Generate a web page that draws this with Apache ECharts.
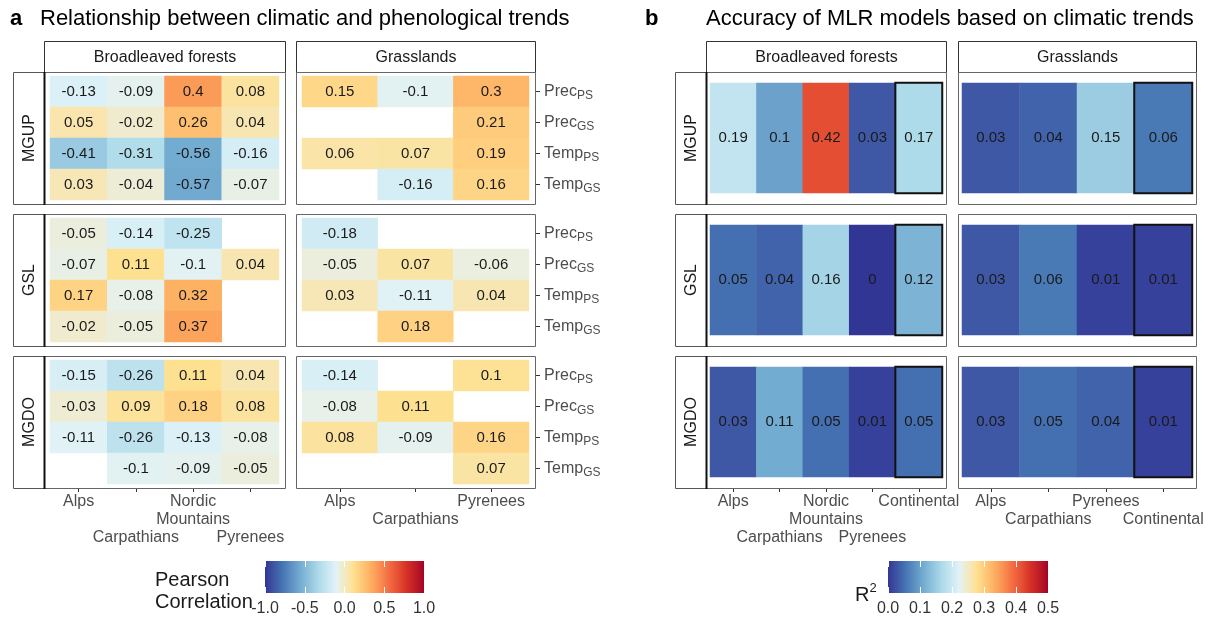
<!DOCTYPE html>
<html>
<head>
<meta charset="utf-8">
<script src="https://cdn.jsdelivr.net/npm/echarts@6/dist/echarts.min.js"></script>
<style>
  html, body { margin: 0; padding: 0; background: #ffffff; }
  #chart { width: 1212px; height: 621px; }
</style>
</head>
<body>
<div id="chart"></div>
<script>
// ---------------- data ----------------
const climateVars = ['Prec_PS', 'Prec_GS', 'Temp_PS', 'Temp_GS'];
const metrics = ['MGUP', 'GSL', 'MGDO'];
const biomes = ['Broadleaved forests', 'Grasslands'];

const forestRegions = ['Alps', 'Carpathians', 'Nordic Mountains', 'Pyrenees'];
const grassRegions = ['Alps', 'Carpathians', 'Pyrenees'];
const forestRegionsMLR = ['Alps', 'Carpathians', 'Nordic Mountains', 'Pyrenees', 'Continental'];
const grassRegionsMLR = ['Alps', 'Carpathians', 'Pyrenees', 'Continental'];

// Pearson correlation (rows: climateVars, columns: regions; null = not significant / missing)
const corrForestMGUP = [
  [-0.13, -0.09, 0.4, 0.08],
  [0.05, -0.02, 0.26, 0.04],
  [-0.41, -0.31, -0.56, -0.16],
  [0.03, -0.04, -0.57, -0.07]
];
const corrGrassMGUP = [
  [0.15, -0.1, 0.3],
  [null, null, 0.21],
  [0.06, 0.07, 0.19],
  [null, -0.16, 0.16]
];
const corrForestGSL = [
  [-0.05, -0.14, -0.25, null],
  [-0.07, 0.11, -0.1, 0.04],
  [0.17, -0.08, 0.32, null],
  [-0.02, -0.05, 0.37, null]
];
const corrGrassGSL = [
  [-0.18, null, null],
  [-0.05, 0.07, -0.06],
  [0.03, -0.11, 0.04],
  [null, 0.18, null]
];
const corrForestMGDO = [
  [-0.15, -0.26, 0.11, 0.04],
  [-0.03, 0.09, 0.18, 0.08],
  [-0.11, -0.26, -0.13, -0.08],
  [null, -0.1, -0.09, -0.05]
];
const corrGrassMGDO = [
  [-0.14, null, 0.1],
  [-0.08, 0.11, null],
  [0.08, -0.09, 0.16],
  [null, null, 0.07]
];

// MLR model accuracy (R²) per region
const r2ForestMGUP = [0.19, 0.1, 0.42, 0.03, 0.17];
const r2ForestGSL = [0.05, 0.04, 0.16, 0, 0.12];
const r2ForestMGDO = [0.03, 0.11, 0.05, 0.01, 0.05];
const r2GrassMGUP = [0.03, 0.04, 0.15, 0.06];
const r2GrassGSL = [0.03, 0.06, 0.01, 0.01];
const r2GrassMGDO = [0.03, 0.05, 0.04, 0.01];

const corrTicks = [-1, -0.5, 0, 0.5, 1];
const r2Ticks = [0, 0.1, 0.2, 0.3, 0.4, 0.5];

// diverging palette (blue - pale - red)
const paletteStops = ['#313695', '#4575b4', '#74add1', '#abd9e9', '#e0f3f8',
                      '#fee090', '#fdae61', '#f46d43', '#d73027', '#a50026'];

// ---------------- colour ramp (interpolated in CIELAB) ----------------
function hexToRgb(h) {
  return [parseInt(h.slice(1, 3), 16), parseInt(h.slice(3, 5), 16), parseInt(h.slice(5, 7), 16)];
}
function toLin(c) { c /= 255; return c <= 0.04045 ? c / 12.92 : Math.pow((c + 0.055) / 1.055, 2.4); }
function fromLin(c) {
  const v = c <= 0.0031308 ? 12.92 * c : 1.055 * Math.pow(c, 1 / 2.4) - 0.055;
  return Math.round(Math.max(0, Math.min(1, v)) * 255);
}
function rgbToLab(rgb) {
  const R = toLin(rgb[0]), G = toLin(rgb[1]), B = toLin(rgb[2]);
  const X = (0.4124 * R + 0.3576 * G + 0.1805 * B) / 0.95047;
  const Y = (0.2126 * R + 0.7152 * G + 0.0722 * B);
  const Z = (0.0193 * R + 0.1192 * G + 0.9505 * B) / 1.08883;
  const f = t => t > 0.008856 ? Math.cbrt(t) : 7.787 * t + 16 / 116;
  const fx = f(X), fy = f(Y), fz = f(Z);
  return [116 * fy - 16, 500 * (fx - fy), 200 * (fy - fz)];
}
function labToHex(lab) {
  const fy = (lab[0] + 16) / 116, fx = fy + lab[1] / 500, fz = fy - lab[2] / 200;
  const inv = t => t * t * t > 0.008856 ? t * t * t : (t - 16 / 116) / 7.787;
  const X = inv(fx) * 0.95047, Y = inv(fy), Z = inv(fz) * 1.08883;
  const R = 3.2406 * X - 1.5372 * Y - 0.4986 * Z;
  const G = -0.9689 * X + 1.8758 * Y + 0.0415 * Z;
  const B = 0.0557 * X - 0.2040 * Y + 1.0570 * Z;
  return '#' + [R, G, B].map(c => fromLin(c).toString(16).padStart(2, '0')).join('');
}
const stopLabs = paletteStops.map(h => rgbToLab(hexToRgb(h)));
function ramp(t) {
  const n = stopLabs.length - 1;
  const p = Math.max(0, Math.min(1, t)) * n;
  const i = Math.min(n - 1, Math.floor(p));
  const f = p - i;
  const a = stopLabs[i], b = stopLabs[i + 1];
  return labToHex([a[0] + (b[0] - a[0]) * f, a[1] + (b[1] - a[1]) * f, a[2] + (b[2] - a[2]) * f]);
}
const NSTEP = 120;
const rampColors = [];
for (let i = 0; i <= NSTEP; i++) rampColors.push(ramp(i / NSTEP));
const gradientStops = rampColors.map((c, i) => ({ offset: i / NSTEP, color: c }));

// ---------------- layout ----------------
const FONT = '"Liberation Sans", Arial, Helvetica, sans-serif';
const TXT = '#1a1a1a';
const AXT = '#4d4d4d';
const rowY = [[72, 204], [214, 346], [356, 488]];
const headerY = [41, 72];
const panelsA = [{ x0: 44, x1: 285, c0: 50, c1: 279 }, { x0: 296, x1: 535, c0: 302, c1: 529 }];
const panelsB = [{ x0: 706, x1: 946, c0: 710, c1: 942 }, { x0: 958, x1: 1196, c0: 962, c1: 1192 }];
const stripA = [13, 44];
const stripB = [675, 706];
const insetA = 4, insetB = 11;

const corrData = [
  [corrForestMGUP, corrGrassMGUP],
  [corrForestGSL, corrGrassGSL],
  [corrForestMGDO, corrGrassMGDO]
];
const r2Data = [
  [r2ForestMGUP, r2GrassMGUP],
  [r2ForestGSL, r2GrassGSL],
  [r2ForestMGDO, r2GrassMGDO]
];
const regionsA = [forestRegions, grassRegions];
const regionsB = [forestRegionsMLR, grassRegionsMLR];

// staggered two-row axis labels
function dodgeFormatter(cats) {
  const firstRow = cats.filter((c, i) => i % 2 === 0);
  const depth = Math.max.apply(null, firstRow.map(c => c.indexOf('Mountains') >= 0 ? 2 : 1));
  return function (value, index) {
    const text = value.replace('Nordic Mountains', 'Nordic\nMountains');
    return index % 2 === 1 ? '\n'.repeat(depth) + text : text;
  };
}

const grids = [], xAxes = [], yAxes = [], series = [];

function heatCells(matrix) {
  const out = [];
  matrix.forEach((row, r) => row.forEach((v, c) => { if (v !== null) out.push([c, r, v]); }));
  return out;
}

const cellLabel = {
  show: true, fontSize: 15, color: TXT, fontFamily: FONT,
  formatter: p => String(p.data.value ? p.data.value[2] : p.data[2])
};

// Panel a : correlations
rowY.forEach((ry, r) => {
  panelsA.forEach((pa, c) => {
    const gi = grids.length;
    grids.push({ left: pa.c0, top: ry[0] + insetA, width: pa.c1 - pa.c0, height: ry[1] - ry[0] - 2 * insetA, outerBoundsMode: 'none', containLabel: false });
    const bottom = r === rowY.length - 1;
    xAxes.push({
      gridIndex: gi, type: 'category', data: regionsA[c], position: 'bottom', offset: insetA,
      axisLine: { show: false },
      axisTick: { show: bottom, alignWithLabel: true, length: 4, lineStyle: { color: '#333', width: 1 } },
      axisLabel: { show: bottom, interval: 0, margin: 5, fontSize: 16, lineHeight: 18, color: AXT, fontFamily: FONT, formatter: dodgeFormatter(regionsA[c]) },
      splitLine: { show: false }
    });
    yAxes.push({
      gridIndex: gi, type: 'category', data: climateVars, inverse: true, position: 'right', offset: 535 - pa.c1,
      axisLine: { show: false },
      axisTick: { show: c === 1, alignWithLabel: true, length: 5, lineStyle: { color: '#333', width: 1 } },
      axisLabel: {
        show: c === 1, margin: 9, color: AXT, fontFamily: FONT,
        formatter: v => { const p = v.split('_'); return '{m|' + p[0] + '}{s|' + p[1] + '}'; },
        rich: {
          m: { fontSize: 16, color: AXT, fontFamily: FONT, lineHeight: 20, verticalAlign: 'middle' },
          s: { fontSize: 12, color: AXT, fontFamily: FONT, lineHeight: 11, verticalAlign: 'bottom' }
        }
      },
      splitLine: { show: false }
    });
    series.push({
      type: 'heatmap', xAxisIndex: gi, yAxisIndex: gi,
      data: heatCells(corrData[r][c]),
      label: cellLabel, emphasis: { disabled: true }, itemStyle: { borderWidth: 0 }
    });
  });
});

// Panel b : model accuracy
const seriesA = series.map((s, i) => i);
rowY.forEach((ry, r) => {
  panelsB.forEach((pb, c) => {
    const gi = grids.length;
    grids.push({ left: pb.c0, top: ry[0] + insetB, width: pb.c1 - pb.c0, height: ry[1] - ry[0] - 2 * insetB, outerBoundsMode: 'none', containLabel: false });
    const bottom = r === rowY.length - 1;
    const cats = regionsB[c];
    xAxes.push({
      gridIndex: gi, type: 'category', data: cats, position: 'bottom', offset: insetB,
      axisLine: { show: false },
      axisTick: { show: bottom, alignWithLabel: true, length: 4, lineStyle: { color: '#333', width: 1 } },
      axisLabel: { show: bottom, interval: 0, margin: 5, fontSize: 16, lineHeight: 18, color: AXT, fontFamily: FONT, formatter: dodgeFormatter(cats) },
      splitLine: { show: false }
    });
    yAxes.push({ gridIndex: gi, type: 'category', data: [metrics[r]], show: false });
    const vals = r2Data[r][c];
    series.push({
      type: 'heatmap', xAxisIndex: gi, yAxisIndex: gi,
      data: vals.map((v, i) => {
        const item = { value: [i, 0, v] };
        if (cats[i] === 'Continental') item.itemStyle = { borderColor: '#111', borderWidth: 2 };
        return item;
      }),
      label: cellLabel, emphasis: { disabled: true }
    });
  });
});
const seriesB = series.map((s, i) => i).filter(i => seriesA.indexOf(i) < 0);

// Colour bars
function colourBar(left, width, ticks) {
  const gi = grids.length;
  grids.push({ left: left, top: 561, width: width, height: 32, outerBoundsMode: 'none', containLabel: false });
  const min = ticks[0], max = ticks[ticks.length - 1], step = ticks[1] - ticks[0];
  const base = {
    gridIndex: gi, type: 'value', min: min, max: max, interval: step, z: 5,
    axisLine: { show: false }, splitLine: { show: false },
    axisTick: { show: true, inside: true, length: 6, lineStyle: { color: '#ffffff', width: 1 } }
  };
  xAxes.push(Object.assign({}, base, {
    position: 'bottom',
    axisLabel: { show: true, margin: 8, fontSize: 16, color: '#333', fontFamily: FONT, formatter: v => v.toFixed(1) }
  }));
  const topIndex = xAxes.length;
  xAxes.push(Object.assign({}, base, { position: 'top', axisLabel: { show: false } }));
  yAxes.push({ gridIndex: gi, type: 'value', min: 0, max: 1, show: false });
  series.push({
    type: 'custom', xAxisIndex: topIndex - 1, yAxisIndex: yAxes.length - 1, z: 1,
    data: [[min, max]],
    renderItem: (params, api) => {
      const p0 = api.coord([api.value(0), 0]);
      const p1 = api.coord([api.value(1), 1]);
      return {
        type: 'rect',
        shape: { x: p0[0], y: p1[1], width: p1[0] - p0[0], height: p0[1] - p1[1] },
        style: { fill: new echarts.graphic.LinearGradient(0, 0, 1, 0, gradientStops) }
      };
    }
  });
}
colourBar(265, 159, corrTicks);
colourBar(888, 160, r2Ticks);

// ---------------- frames, strips and titles ----------------
const graphic = [];
function box(x0, y0, x1, y1, stroke, lw) {
  graphic.push({ type: 'rect', z: 10, silent: true,
    shape: { x: x0 + 0.5, y: y0 + 0.5, width: x1 - x0, height: y1 - y0 },
    style: { fill: null, stroke: stroke, lineWidth: lw || 1 } });
}
function text(x, y, str, opts) {
  graphic.push(Object.assign({ type: 'text', z: 11, silent: true, x: x, y: y,
    style: Object.assign({ text: str, fill: TXT, fontSize: 16, fontFamily: FONT, align: 'center', verticalAlign: 'middle' }, opts && opts.style) },
    opts && opts.el));
}

[[panelsA, stripA], [panelsB, stripB]].forEach(([panels, strip]) => {
  panels.forEach((p, c) => {
    box(p.x0, headerY[0], p.x1, headerY[1], '#333');
    text((p.x0 + p.x1) / 2 + 0.5, (headerY[0] + headerY[1]) / 2 + 1, biomes[c]);
    rowY.forEach(ry => box(p.x0, ry[0], p.x1, ry[1], '#666'));
  });
  rowY.forEach((ry, r) => {
    box(strip[0], ry[0], strip[1], ry[1], '#555');
    graphic.push({ type: 'line', z: 12, silent: true,
      shape: { x1: strip[1] + 0.5, y1: ry[0], x2: strip[1] + 0.5, y2: ry[1] + 1 },
      style: { stroke: '#111', lineWidth: 2 } });
    text((strip[0] + strip[1]) / 2 + 1, (ry[0] + ry[1]) / 2, metrics[r], { el: { rotation: Math.PI / 2 } });
  });
});

text(10, 19, 'a', { style: { fontSize: 22, fontWeight: 'bold', align: 'left', fill: '#000' } });
text(40, 19, 'Relationship between climatic and phenological trends', { style: { fontSize: 22, align: 'left', fill: '#000' } });
text(645, 19, 'b', { style: { fontSize: 22, fontWeight: 'bold', align: 'left', fill: '#000' } });
text(706, 19, 'Accuracy of MLR models based on climatic trends', { style: { fontSize: 22, align: 'left', fill: '#000' } });

// legend titles
graphic.push({ type: 'text', z: 11, silent: true, x: 155, y: 569,
  style: { text: 'Pearson\nCorrelation', fontSize: 20, lineHeight: 22, fill: TXT, fontFamily: FONT, align: 'left', verticalAlign: 'top' } });
graphic.push({ type: 'text', z: 11, silent: true, x: 855, y: 595,
  style: { text: '{r|R}{s|2}', fill: TXT, fontFamily: FONT, align: 'left', verticalAlign: 'middle',
    rich: { r: { fontSize: 20, fontFamily: FONT, fill: TXT, lineHeight: 26, verticalAlign: 'middle' },
            s: { fontSize: 13, fontFamily: FONT, fill: TXT, lineHeight: 12, verticalAlign: 'top' } } } });

const chart = echarts.init(document.getElementById('chart'), null, { renderer: 'canvas' });
chart.setOption({
  backgroundColor: '#ffffff',
  animation: false,
  grid: grids,
  xAxis: xAxes,
  yAxis: yAxes,
  visualMap: [
    { type: 'continuous', show: false, min: -1, max: 1, dimension: 2, seriesIndex: seriesA, inRange: { color: rampColors } },
    { type: 'continuous', show: false, min: 0, max: 0.5, dimension: 2, seriesIndex: seriesB, inRange: { color: rampColors } }
  ],
  series: series,
  graphic: graphic
});
</script>
</body>
</html>
